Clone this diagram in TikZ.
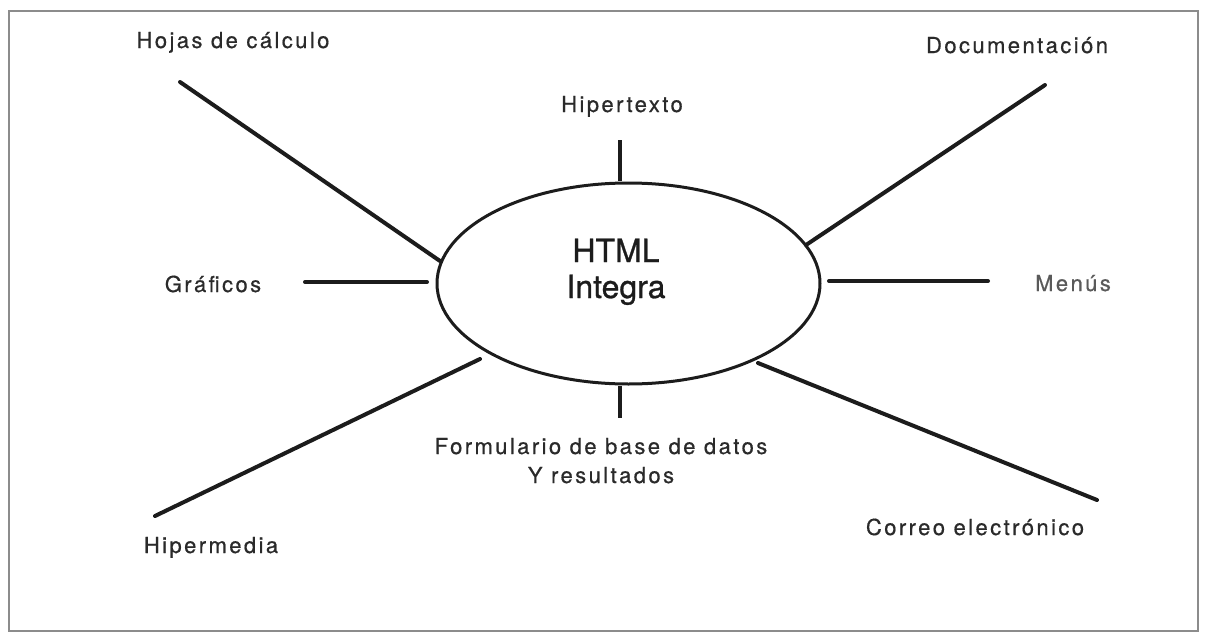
\documentclass[tikz,border=0pt]{standalone}
\usepackage{fontspec}
\setmainfont{TeX Gyre Heros}
\newfontfamily\labfont[LetterSpace=11,FakeBold=0.6]{TeX Gyre Heros}
\newfontfamily\hubfont[FakeBold=0.9]{TeX Gyre Heros}
\usetikzlibrary{shapes.geometric}
\definecolor{ink}{HTML}{1C1C1C}
\definecolor{txtgray}{HTML}{2A2A2A}
\definecolor{menugray}{HTML}{5A5A5A}
\definecolor{frgray}{HTML}{8C8C8C}
\begin{document}
\begin{tikzpicture}[x=1pt,y=-1pt,
  spoke/.style={line width=4pt, draw=ink, line cap=round},
  lab/.style={inner sep=0pt, anchor=base, text=txtgray, font=\labfont\fontsize{22}{29}\selectfont},
  hub/.style={draw=ink, line width=3pt, ellipse, minimum width=383pt, minimum height=201pt, inner sep=0pt},
  hubtext/.style={inner sep=0pt, anchor=base, text=ink, font=\hubfont\fontsize{32}{36}\selectfont}]
\useasboundingbox (0,0) rectangle (1205,637);
\draw[frgray, line width=1.5pt] (9,11) rectangle (1198,631);

% hub
\node[hub] (e) at (628.5,283.5) {};
\node[hubtext] (etxt) at (616,262) {\begin{tabular}[t]{@{}c@{}}HTML\\Integra\end{tabular}};

% labels
\node[lab] (hojas) at (233,48) {Hojas de cálculo};
\node[lab] (graf) at (213,292) {Gráficos};
\node[lab] (hiper) at (622,112) {Hipertexto};
\node[lab] (doc) at (1017,53) {Documentación};
\node[lab, text=menugray] (menu) at (1073,291) {Menús};
\node[lab] (correo) at (975,535) {Correo electrónico};
\node[lab] (hmedia) at (211,553) {Hipermedia};
\node[lab] (form) at (601,454) {\begin{tabular}[t]{@{}c@{}}Formulario de base de datos\\Y resultados\end{tabular}};

% spoke end points
\coordinate (h1) at (180,82);   \coordinate (h2) at (440,261);
\coordinate (g1) at (305,282);  \coordinate (g2) at (427,282);
\coordinate (t1) at (620,140);  \coordinate (t2) at (620,181);
\coordinate (d1) at (1045,85);  \coordinate (d2) at (806,245);
\coordinate (m1) at (829,281);  \coordinate (m2) at (988,281);
\coordinate (c1) at (758,363);  \coordinate (c2) at (1097,500);
\coordinate (f1) at (620,386);  \coordinate (f2) at (620,418);
\coordinate (p1) at (480,359);  \coordinate (p2) at (155,516);

\draw[spoke] (h1) -- (h2);
\draw[spoke] (g1) -- (g2);
\draw[spoke, line cap=butt] (t1) -- (t2);
\draw[spoke] (d1) -- (d2);
\draw[spoke] (m1) -- (m2);
\draw[spoke] (c1) -- (c2);
\draw[spoke, line cap=butt] (f1) -- (f2);
\draw[spoke] (p1) -- (p2);
\end{tikzpicture}
\end{document}
